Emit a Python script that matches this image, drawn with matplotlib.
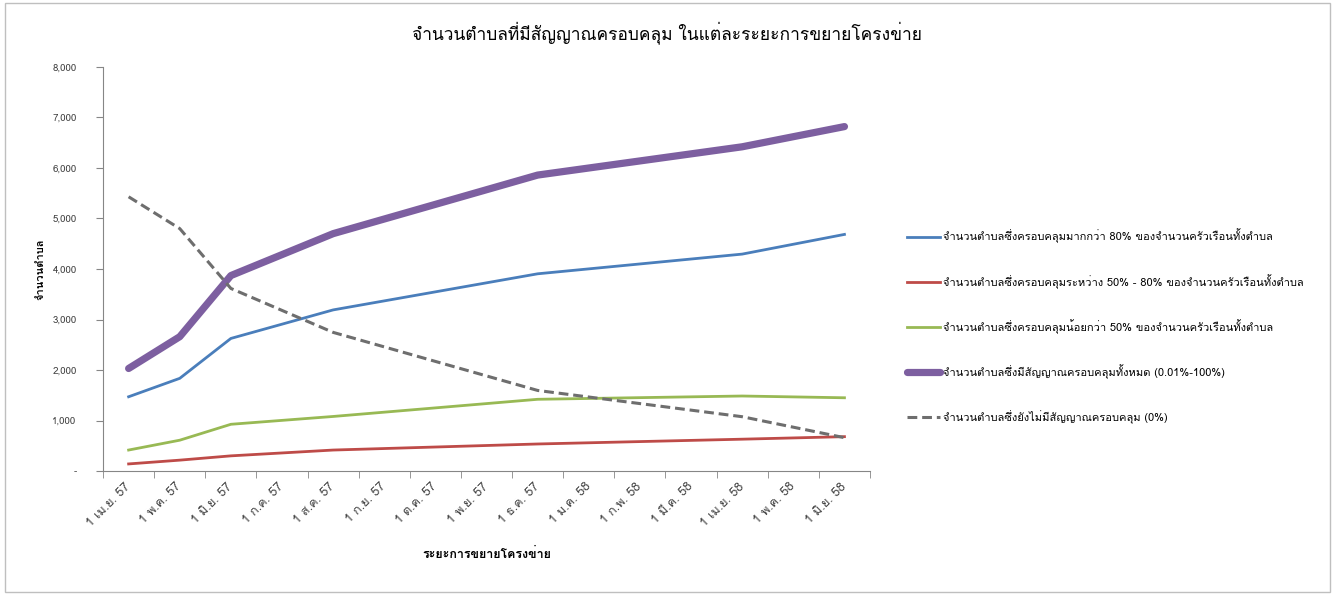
import matplotlib
matplotlib.use("Agg")
import matplotlib.pyplot as plt
from matplotlib import font_manager, ft2font
from matplotlib.patches import Rectangle
from matplotlib.ticker import FuncFormatter, FixedLocator


def thai_font():
    '''first installed family that has Thai glyphs'''
    for f in font_manager.fontManager.ttflist:
        try:
            if ft2font.FT2Font(f.fname).get_char_index(ord('ก')):
                return f.name
        except Exception:
            pass
    return 'DejaVu Sans'


TH = thai_font()
plt.rcParams['font.family'] = [TH, 'DejaVu Sans']

months = ["1 เม.ย. 57", "1 พ.ค. 57", "1 มิ.ย. 57", "1 ก.ค. 57", "1 ส.ค. 57",
          "1 ก.ย. 57", "1 ต.ค. 57", "1 พ.ย. 57", "1 ธ.ค. 57", "1 ม.ค. 58",
          "1 ก.พ. 58", "1 มี.ค. 58", "1 เม.ย. 58", "1 พ.ค. 58", "1 มิ.ย. 58"]
# month index of each survey date
point_month = [0, 1, 2, 4, 8, 12, 14]

over80 = [1470, 1835, 2625, 3190, 3905, 4295, 4685]
mid50_80 = [140, 215, 300, 415, 535, 630, 680]
under50 = [415, 610, 925, 1080, 1420, 1485, 1450]
covered = [2030, 2660, 3870, 4700, 5860, 6420, 6820]
uncovered = [5430, 4800, 3615, 2745, 1595, 1075, 660]

names = [
    "จำนวนตำบลซึ่งครอบคลุมมากกว่า 80% ของจำนวนครัวเรือนทั้งตำบล",
    "จำนวนตำบลซึ่งครอบคลุมระหว่าง 50% - 80% ของจำนวนครัวเรือนทั้งตำบล",
    "จำนวนตำบลซึ่งครอบคลุมน้อยกว่า 50% ของจำนวนครัวเรือนทั้งตำบล",
    "จำนวนตำบลซึ่งมีสัญญาณครอบคลุมทั้งหมด (0.01%-100%)",
    "จำนวนตำบลซึ่งยังไม่มีสัญญาณครอบคลุม (0%)",
]

fig = plt.figure(figsize=(13.35, 5.95), dpi=100)
ax = fig.add_axes([0.0772, 0.2084, 0.5745, 0.679])

ax.plot(point_month, over80, color='#4a7ebb', lw=2.0, label=names[0])
ax.plot(point_month, mid50_80, color='#be4b48', lw=2.0, label=names[1])
ax.plot(point_month, under50, color='#98b954', lw=2.0, label=names[2])
ax.plot(point_month, covered, color='#7d5fa0', lw=5.2, solid_capstyle='round',
        label=names[3])
ax.plot(point_month, uncovered, color='#6e6e6e', lw=2.2, ls=(0, (3.2, 1.6)),
        label=names[4])

ax.set_xlim(-0.5, len(months) - 0.5)
ax.set_ylim(0, 8000)
ax.set_xticks(range(len(months)))
ax.set_xticklabels(months, rotation=45, ha='right', va='center',
                   rotation_mode='anchor', fontsize=9, color='#404040')
ax.xaxis.set_minor_locator(FixedLocator([i - 0.5 for i in range(len(months) + 1)]))
ax.tick_params(axis='x', which='major', length=0, pad=10)
ax.tick_params(axis='x', which='minor', length=5, color='#868686')
ax.set_yticks(range(0, 8001, 1000))
ax.yaxis.set_major_formatter(FuncFormatter(lambda v, p: '-' if v == 0 else f'{int(v):,}'))
ax.tick_params(axis='y', length=5, color='#868686', labelsize=7, labelcolor='#404040', pad=14)

for s in ['top', 'right']:
    ax.spines[s].set_visible(False)
for s in ['left', 'bottom']:
    ax.spines[s].set_color('#868686')

ax.set_ylabel("จำนวนตำบล", fontsize=8, fontweight='bold', labelpad=5)
ax.set_xlabel("ระยะการขยายโครงข่าย", fontsize=9, fontweight='bold', labelpad=14)

fig.text(0.5, 0.945, "จำนวนตำบลที่มีสัญญาณครอบคลุม ในแต่ละระยะการขยายโครงข่าย",
         ha='center', va='center', fontsize=12.5)

fig.legend(loc='center left', bbox_to_anchor=(0.672, 0.452), frameon=False,
           fontsize=8, handlelength=3.0, handletextpad=0.2, labelspacing=2.75)

fig.patches.append(Rectangle((0.004, 0.005), 0.992, 0.99, transform=fig.transFigure,
                             fill=False, edgecolor='#bfbfbf', lw=1))

fig.savefig('out.png', dpi=100)
